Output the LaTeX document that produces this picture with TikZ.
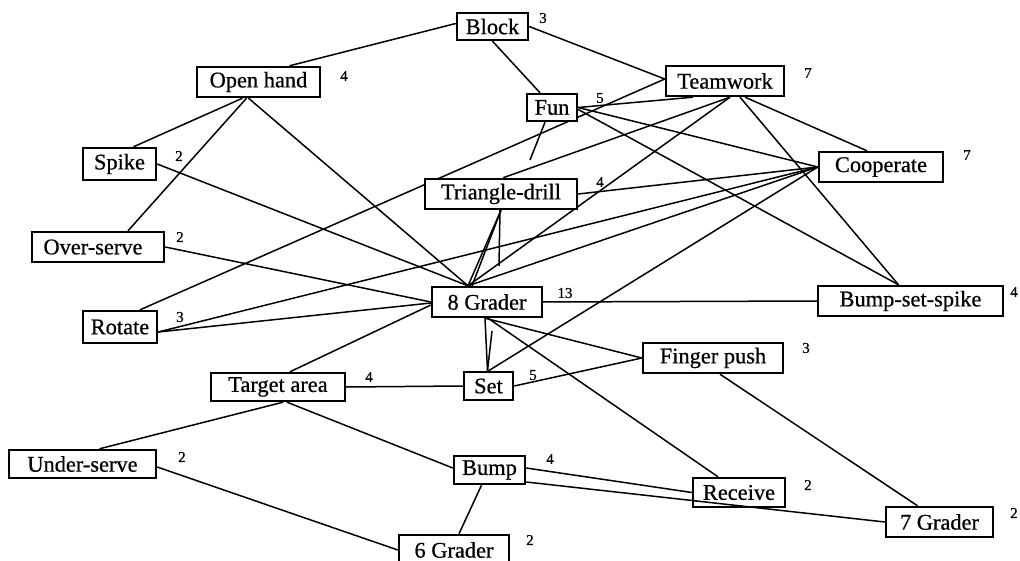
\documentclass[tikz,border=0pt]{standalone}
\usepackage{fontspec}
\setmainfont{Liberation Serif}
\newfontfamily\heavyserif[FakeBold=0.6]{Liberation Serif}
\usetikzlibrary{calc}
\pgfdeclarelayer{bg}
\pgfsetlayers{bg,main}
\begin{document}
\begin{tikzpicture}[x=1pt,y=-1pt,
  box/.style={draw,line width=2.4pt,fill=white,inner sep=0pt,font=\heavyserif\fontsize{22.4}{24}\selectfont},
  num/.style={inner sep=0pt,font=\heavyserif\fontsize{15}{16}\selectfont},
  link/.style={line width=1.5pt}]
\useasboundingbox (0,0) rectangle (1020,561);
% nodes
\node[box,minimum width=71pt,minimum height=27pt] (block) at (492.5,26.5) {Block};
\node[box,minimum width=123pt,minimum height=30pt] (open) at (258.5,82) {Open hand};
\node[box,minimum width=118pt,minimum height=30pt] (team) at (725,81) {Teamwork};
\node[box,minimum width=50pt,minimum height=27pt] (fun) at (552,107.5) {Fun};
\node[box,minimum width=73pt,minimum height=32pt] (spike) at (119.5,164) {Spike};
\node[box,minimum width=124pt,minimum height=30pt] (coop) at (881,167) {Cooperate};
\node[box,minimum width=152pt,minimum height=30pt] (tri) at (501,194) {Triangle-drill};
\node[box,minimum width=132pt,minimum height=30pt] (over) at (98,247) {Over-serve\hspace*{10pt}};
\node[box,minimum width=110pt,minimum height=30pt] (g8) at (487,302) {8 Grader};
\node[box,minimum width=185pt,minimum height=30pt] (bss) at (910.5,301) {Bump-set-spike};
\node[box,minimum width=74pt,minimum height=32pt] (rotate) at (120,327) {Rotate};
\node[box,minimum width=140pt,minimum height=30pt] (finger) at (713,358) {Finger push};
\node[box,minimum width=134pt,minimum height=28pt] (target) at (278,387) {Target area};
\node[box,minimum width=49pt,minimum height=28pt] (set) at (488.5,386) {Set};
\node[box,minimum width=147pt,minimum height=28pt] (under) at (82.5,464) {Under-serve};
\node[box,minimum width=71pt,minimum height=28pt] (bump) at (489.5,470) {Bump};
\node[box,minimum width=92pt,minimum height=29pt] (receive) at (739,492.5) {Receive};
\node[box,minimum width=107pt,minimum height=30pt] (g7) at (939.5,522) {7 Grader};
\node[box,minimum width=110pt,minimum height=30pt] (g6) at (454,550) {6 Grader};
% degree numbers
\node[num] (nblock) at (543,18) {3};
\node[num] (nopen) at (344,76) {4};
\node[num] (nteam) at (808,73) {7};
\node[num] (nfun) at (600,98) {5};
\node[num] (nspike) at (179,156) {2};
\node[num] (ncoop) at (967,155) {7};
\node[num] (ntri) at (600,182) {4};
\node[num] (nover) at (180,237) {2};
\node[num] (ng8) at (565,293) {13};
\node[num] (nbss) at (1014,292) {4};
\node[num] (nrotate) at (180,317) {3};
\node[num] (nfinger) at (806,348) {3};
\node[num] (ntarget) at (369,377) {4};
\node[num] (nset) at (533,375) {5};
\node[num] (nunder) at (182,457) {2};
\node[num] (nbump) at (550,459) {4};
\node[num] (nreceive) at (808,485) {2};
\node[num] (ng7) at (1014,513) {2};
\node[num] (ng6) at (530,540) {2};
% helper coordinates for free ends
\coordinate (funend) at (530,160);
\coordinate (triend) at (499,266);
\coordinate (setv) at (492,331);
\begin{pgfonlayer}{bg}
\draw[link] ($(block.west)+(0,-3)$) -- ($(open.north)+(31,0)$);
\draw[link] (block.east) -- ($(team.west)+(0,-2)$);
\draw[link] (block.south) -- ($(fun.north)+(-12,0)$);
\draw[link] ($(open.south)+(-16,0)$) -- ($(spike.north)+(14,0)$);
\draw[link] ($(open.south)+(-12,0)$) -- ($(over.north)+(30,0)$);
\draw[link] ($(open.south)+(-10,0)$) -- ($(g8.north)+(-19,0)$);
\draw[link] (spike.east) -- ($(g8.north)+(-19,0)$);
\draw[link] (over.east) -- (g8.west);
\draw[link] ($(rotate.east)+(0,5)$) -- ($(g8.west)+(0,1)$);
\draw[link] ($(rotate.east)+(0,5)$) -- (coop.west);
\draw[link] ($(rotate.north)+(20,0)$) -- ($(team.west)+(0,-2)$);
\draw[link] (fun.east) -- ($(team.south)+(-32,0)$);
\draw[link] ($(team.south)+(5,0)$) -- ($(tri.north)+(2,0)$);
\draw[link] ($(team.south)+(5,0)$) -- ($(g8.north)+(-19,0)$);
\draw[link] ($(team.south)+(20,0)$) -- ($(coop.north)+(-14,0)$);
\draw[link] ($(team.south)+(15,0)$) -- ($(bss.north)+(-12,0)$);
\draw[link] (fun.east) -- (coop.west);
\draw[link] ($(fun.east)+(0,2)$) -- ($(bss.north)+(-12,0)$);
\draw[link] ($(fun.south)+(-7,0)$) -- (funend);
\draw[link] (tri.east) -- (coop.west);
\draw[link] (tri.south) -- ($(g8.north)+(-19,0)$);
\draw[link] (tri.south) -- ($(g8.north)+(-15,0)$);
\draw[link] ($(tri.south)+(-1,0)$) -- (triend);
\draw[link] ($(g8.north)+(-19,0)$) -- (coop.west);
\draw[link] (set.north) -- (coop.west);
\draw[link] (g8.east) -- (bss.west);
\draw[link] ($(g8.south)+(-2,0)$) -- ($(set.north)+(-1,0)$);
\draw[link] (setv) -- ($(set.north)+(-1,0)$);
\draw[link] ($(g8.south)+(-2,0)$) -- (finger.west);
\draw[link] ($(g8.south)+(1,0)$) -- ($(receive.north)+(-21,0)$);
\draw[link] ($(g8.west)+(0,3)$) -- ($(target.north)+(12,0)$);
\draw[link] (target.east) -- (set.west);
\draw[link] (set.east) -- (finger.west);
\draw[link] ($(finger.south)+(7,0)$) -- ($(g7.north)+(-22,0)$);
\draw[link] ($(target.south)+(5,0)$) -- ($(under.north)+(17,0)$);
\draw[link] ($(target.south)+(9,0)$) -- ($(bump.west)+(0,-2)$);
\draw[link] ($(under.east)+(0,3)$) -- (g6.west);
\draw[link] ($(bump.south)+(-8,0)$) -- ($(g6.north)+(5,0)$);
\draw[link] ($(bump.east)+(0,-2)$) -- (receive.west);
\end{pgfonlayer}
\draw[link] ($(bump.east)+(0,12)$) -- (g7.west);
\end{tikzpicture}
\end{document}
